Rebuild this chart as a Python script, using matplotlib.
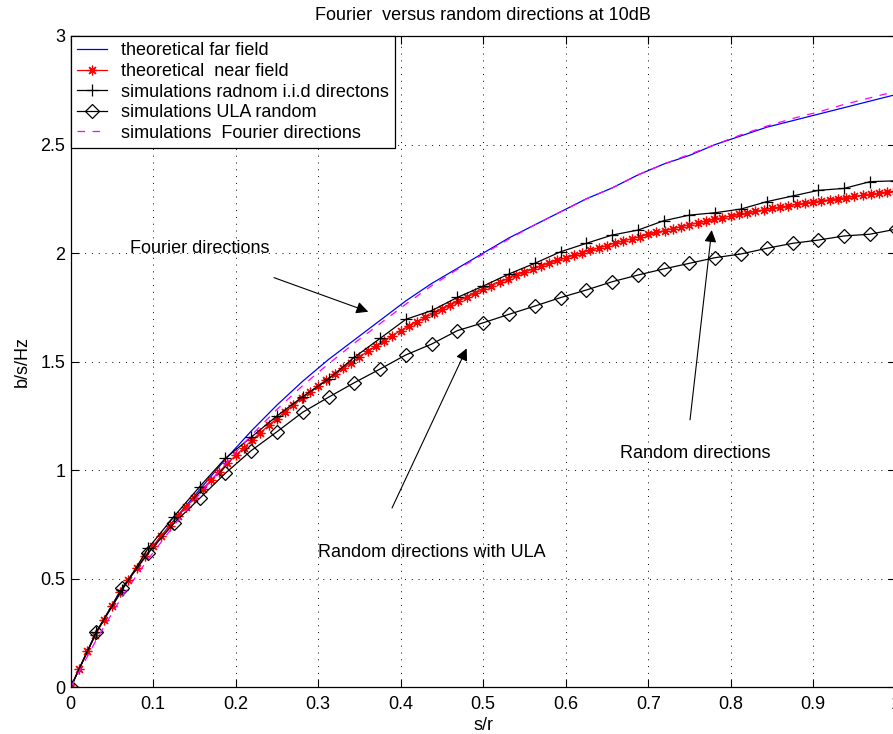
import numpy as np
import matplotlib
matplotlib.use("Agg")
import matplotlib.pyplot as plt

plt.rcParams['font.family'] = ['Liberation Sans', 'DejaVu Sans']

# ---- data ----
x_sim = [k / 32 for k in range(33)]
far_field = [0.000, 0.255, 0.460, 0.620, 0.770, 0.910, 1.050, 1.180, 1.300, 1.410,
             1.510, 1.600, 1.690, 1.780, 1.860, 1.930, 2.000, 2.070, 2.130, 2.190,
             2.250, 2.300, 2.360, 2.410, 2.450, 2.500, 2.540, 2.580, 2.610, 2.640,
             2.670, 2.700, 2.730]
fourier_sim = [0.000, 0.220, 0.420, 0.590, 0.745, 0.890, 1.030, 1.160, 1.280, 1.390,
               1.490, 1.585, 1.675, 1.765, 1.850, 1.925, 1.995, 2.065, 2.130, 2.190,
               2.250, 2.300, 2.360, 2.410, 2.455, 2.500, 2.545, 2.585, 2.620, 2.650,
               2.685, 2.715, 2.745]
iid_sim = [0.000, 0.256, 0.448, 0.640, 0.786, 0.924, 1.055, 1.152, 1.250, 1.339,
           1.420, 1.520, 1.607, 1.695, 1.735, 1.796, 1.848, 1.904, 1.953, 2.006,
           2.045, 2.083, 2.106, 2.149, 2.175, 2.186, 2.203, 2.237, 2.263, 2.289,
           2.298, 2.329, 2.333]
ula_sim = [0.000, 0.256, 0.456, 0.617, 0.755, 0.870, 0.986, 1.090, 1.177, 1.267,
           1.336, 1.403, 1.466, 1.531, 1.581, 1.643, 1.679, 1.718, 1.756, 1.795,
           1.830, 1.868, 1.899, 1.927, 1.953, 1.979, 1.996, 2.022, 2.045, 2.060,
           2.079, 2.087, 2.110]
x_near = [k / 100 for k in range(101)]
near_field = [0.000, 0.085, 0.165, 0.240, 0.310, 0.376, 0.438, 0.496, 0.551, 0.603,
              0.652, 0.699, 0.744, 0.788, 0.831, 0.873, 0.914, 0.954, 0.993, 1.031,
              1.068, 1.104, 1.139, 1.173, 1.206, 1.238, 1.270, 1.301, 1.331, 1.360,
              1.388, 1.416, 1.443, 1.470, 1.496, 1.522, 1.547, 1.572, 1.596, 1.620,
              1.643, 1.664, 1.684, 1.704, 1.723, 1.742, 1.761, 1.779, 1.797, 1.815,
              1.833, 1.850, 1.866, 1.882, 1.897, 1.912, 1.926, 1.940, 1.953, 1.966,
              1.978, 1.990, 2.002, 2.013, 2.024, 2.035, 2.046, 2.056, 2.066, 2.076,
              2.086, 2.095, 2.104, 2.113, 2.122, 2.131, 2.139, 2.147, 2.155, 2.163,
              2.171, 2.178, 2.185, 2.192, 2.199, 2.206, 2.212, 2.218, 2.224, 2.230,
              2.236, 2.241, 2.246, 2.251, 2.256, 2.261, 2.266, 2.271, 2.276, 2.281,
              2.286]
labels = ['theoretical far field', 'theoretical  near field',
          'simulations radnom i.i.d directons', 'simulations ULA random',
          'simulations  Fourier directions']
x_ticks = [0, 0.1, 0.2, 0.3, 0.4, 0.5, 0.6, 0.7, 0.8, 0.9, 1]
x_tick_labels = ['0', '0.1', '0.2', '0.3', '0.4', '0.5', '0.6', '0.7', '0.8', '0.9', '1']
y_ticks = [0, 0.5, 1, 1.5, 2, 2.5, 3]
y_tick_labels = ['0', '0.5', '1', '1.5', '2', '2.5', '3']

FS = 13
fig = plt.figure(figsize=(8.93, 7.34), dpi=100)
ax = fig.add_axes([70.7 / 893, 1 - 687.3 / 734, 825 / 893, 651.3 / 734])

ax.plot(x_sim, far_field, color='#0000ff', lw=0.9, label=labels[0])
ax.plot(x_near, near_field, color='red', lw=0.9, marker=(8, 2, 0), ms=7,
        mew=0.9, label=labels[1])
ax.plot(x_sim, iid_sim, color='black', lw=0.9, marker='+', ms=9, mew=0.9,
        label=labels[2])
ax.plot(x_sim, ula_sim, color='black', lw=0.9, marker='D', ms=7, mew=0.9,
        mfc='none', label=labels[3])
ax.plot(x_sim, fourier_sim, color='magenta', lw=0.9, ls=(0, (6, 6)),
        label=labels[4])

ax.set_xlim(0, 1)
ax.set_ylim(0, 3)
ax.set_xticks(x_ticks)
ax.set_xticklabels(x_tick_labels, fontsize=FS)
ax.set_yticks(y_ticks)
ax.set_yticklabels(y_tick_labels, fontsize=FS)
ax.tick_params(direction='in', length=6, width=0.8, top=True, right=True)
ax.tick_params(axis='x', pad=6)
ax.tick_params(axis='y', pad=4)
ax.grid(True, color='black', ls=(0, (1, 6)), lw=0.7)
for s in ax.spines.values():
    s.set_linewidth(0.9)

ax.set_xlabel('s/r', fontsize=FS, labelpad=3)
ax.set_ylabel('b/s/Hz', fontsize=FS, labelpad=7)
fig.text(483 / 893, 1 - 16 / 734, 'Fourier  versus random directions at 10dB',
         ha='center', va='center', fontsize=FS)

leg = ax.legend(loc='upper left', fontsize=FS, frameon=True, fancybox=False,
                edgecolor='black', framealpha=1, borderaxespad=0,
                handlelength=1.67, handletextpad=0.75, labelspacing=0.2,
                borderpad=0.35)
leg.get_frame().set_linewidth(0.9)

ax.annotate('', xy=(0.3607, 1.730), xytext=(0.2464, 1.887),
            arrowprops=dict(arrowstyle='-|>', color='black', lw=0.8,
                            mutation_scale=18, shrinkA=0, shrinkB=0))
ax.text(0.0719, 2.019, 'Fourier directions', fontsize=FS, va='center', ha='left')

ax.annotate('', xy=(0.777, 2.106), xytext=(0.7507, 1.232),
            arrowprops=dict(arrowstyle='-|>', color='black', lw=0.8,
                            mutation_scale=18, shrinkA=0, shrinkB=0))
ax.text(0.6658, 1.079, 'Random directions', fontsize=FS, va='center', ha='left')

ax.annotate('', xy=(0.48, 1.561), xytext=(0.3895, 0.826),
            arrowprops=dict(arrowstyle='-|>', color='black', lw=0.8,
                            mutation_scale=18, shrinkA=0, shrinkB=0))
ax.text(0.2998, 0.619, 'Random directions with ULA', fontsize=FS, va='center', ha='left')

fig.savefig('out.png', dpi=100)
